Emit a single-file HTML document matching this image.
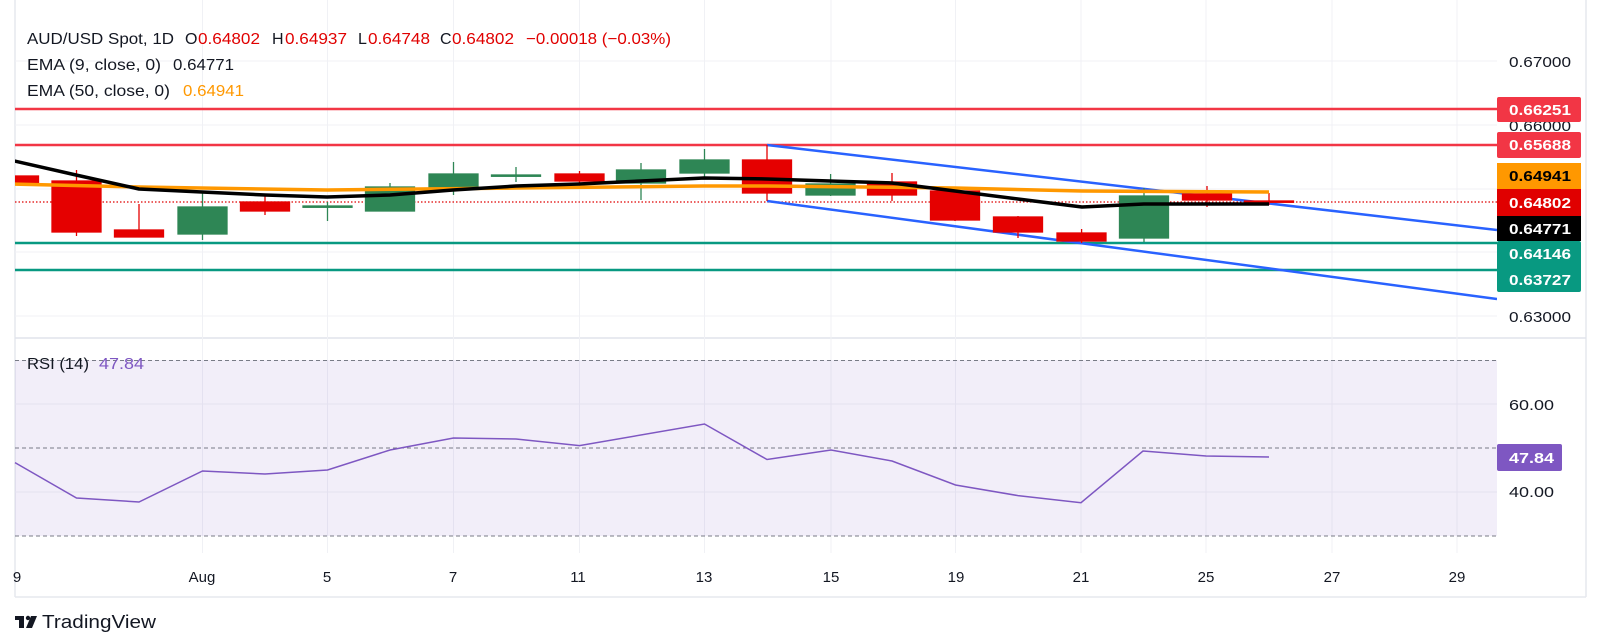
<!DOCTYPE html>
<html><head><meta charset="utf-8"><style>
html,body{margin:0;padding:0;background:#fff;}
svg{display:block;font-family:"Liberation Sans",sans-serif;}
</style></head><body>
<svg width="1602" height="644" viewBox="0 0 1602 644" xmlns="http://www.w3.org/2000/svg">
<defs><clipPath id="c"><rect x="15" y="0" width="1482" height="338"/></clipPath></defs>
<rect width="1602" height="644" fill="#fff"/>
<line x1="15" y1="0" x2="15" y2="597" stroke="#e6e8ee" stroke-width="1.5"/>
<line x1="1586" y1="0" x2="1586" y2="597" stroke="#e6e8ee" stroke-width="1.5"/>
<line x1="15" y1="597" x2="1586" y2="597" stroke="#e6e8ee" stroke-width="1.5"/>
<line x1="15" y1="338" x2="1586" y2="338" stroke="#e0e3eb" stroke-width="1.5"/>
<g stroke="#f0f1f5" stroke-width="1">
<line x1="15" y1="61" x2="1497" y2="61"/><line x1="15" y1="125" x2="1497" y2="125"/>
<line x1="15" y1="189" x2="1497" y2="189"/><line x1="15" y1="252" x2="1497" y2="252"/>
<line x1="15" y1="316" x2="1497" y2="316"/>
<line x1="15" y1="404" x2="1497" y2="404"/><line x1="15" y1="492" x2="1497" y2="492"/>
<line x1="202.5" y1="0" x2="202.5" y2="553"/><line x1="327.5" y1="0" x2="327.5" y2="553"/>
<line x1="453.5" y1="0" x2="453.5" y2="553"/><line x1="579.5" y1="0" x2="579.5" y2="553"/>
<line x1="704.5" y1="0" x2="704.5" y2="553"/><line x1="831" y1="0" x2="831" y2="553"/>
<line x1="955.5" y1="0" x2="955.5" y2="553"/><line x1="1081" y1="0" x2="1081" y2="553"/>
<line x1="1206" y1="0" x2="1206" y2="553"/><line x1="1332" y1="0" x2="1332" y2="553"/>
<line x1="1457" y1="0" x2="1457" y2="553"/>
</g>
<g clip-path="url(#c)">
<line x1="15" y1="109" x2="1497" y2="109" stroke="#f23645" stroke-width="2.5"/>
<line x1="15" y1="145" x2="1497" y2="145" stroke="#f23645" stroke-width="2.5"/>
<line x1="15" y1="243" x2="1497" y2="243" stroke="#089981" stroke-width="2.5"/>
<line x1="15" y1="270" x2="1497" y2="270" stroke="#089981" stroke-width="2.5"/>
<line x1="15" y1="202" x2="1497" y2="202" stroke="#e00000" stroke-width="1.2" stroke-dasharray="1.5 2"/>
<line x1="767" y1="145" x2="1497" y2="230" stroke="#2962ff" stroke-width="2.5"/>
<line x1="767" y1="201" x2="1497" y2="299" stroke="#2962ff" stroke-width="2.5"/>
<g stroke-width="1.3">
<g fill="#e50000" stroke="#e50000">
<rect x="-10.5" y="176" width="49" height="7"/>
<line x1="76.5" y1="170" x2="76.5" y2="236"/><rect x="52" y="181" width="49" height="51"/>
<line x1="139" y1="204" x2="139" y2="237"/><rect x="114.5" y="230" width="49" height="7"/>
<line x1="265" y1="195" x2="265" y2="215"/><rect x="240.5" y="202" width="49" height="9"/>
<line x1="579.5" y1="171" x2="579.5" y2="188"/><rect x="555" y="174" width="49" height="7"/>
<line x1="767" y1="145" x2="767" y2="201"/><rect x="742.5" y="160" width="49" height="33"/>
<line x1="892" y1="173" x2="892" y2="201"/><rect x="867.5" y="182" width="49" height="13"/>
<line x1="955" y1="190" x2="955" y2="221"/><rect x="930.5" y="191" width="49" height="29"/>
<line x1="1018" y1="216" x2="1018" y2="238"/><rect x="993.5" y="217" width="49" height="15"/>
<line x1="1081.6" y1="229" x2="1081.6" y2="243"/><rect x="1057" y="233" width="49" height="8"/>
<line x1="1207" y1="186" x2="1207" y2="207"/><rect x="1182.5" y="194" width="49" height="6"/>
<line x1="1269" y1="193" x2="1269" y2="205"/><rect x="1244.5" y="201" width="49" height="1.3"/>
</g>
<g fill="#2e8655" stroke="#2e8655">
<line x1="202.5" y1="193" x2="202.5" y2="240"/><rect x="178" y="207" width="49" height="27"/>
<line x1="327.5" y1="202" x2="327.5" y2="221"/><rect x="303" y="206" width="49" height="1.3"/>
<line x1="390" y1="183" x2="390" y2="211"/><rect x="365.5" y="187" width="49" height="24"/>
<line x1="453.5" y1="162" x2="453.5" y2="195"/><rect x="429" y="174" width="49" height="13"/>
<line x1="516" y1="167" x2="516" y2="182"/><rect x="491.5" y="175" width="49" height="1.3"/>
<line x1="641" y1="163" x2="641" y2="200"/><rect x="616.5" y="170" width="49" height="13"/>
<line x1="704.5" y1="149" x2="704.5" y2="178"/><rect x="680" y="160" width="49" height="13"/>
<line x1="830.6" y1="174" x2="830.6" y2="196"/><rect x="806" y="184" width="49" height="11"/>
<line x1="1144" y1="188" x2="1144" y2="242"/><rect x="1119.5" y="196" width="49" height="42"/>
</g>
</g>
<polyline fill="none" stroke="#ff9800" stroke-width="3.5" stroke-linejoin="round" points="10,184 139,187 327,190 516,188 704,186 767,186 955,188 1082,191 1269,192"/>
<polyline fill="none" stroke="#000" stroke-width="3.5" stroke-linejoin="round" points="10,160 76,175 139,189 202,192 265,195 327,197 390,195 453,190 516,186 579,184 641,181 704,178 767,179 830,181 892,183 955,191 1018,199 1082,207 1144,204 1207,204 1269,204"/>
</g>
<!-- header -->
<g font-size="16" fill="#131722">
<text x="27" y="44" textLength="147" lengthAdjust="spacingAndGlyphs">AUD/USD Spot, 1D</text>
<text x="185" y="44">O</text><text x="198" y="44" fill="#e00000" textLength="62" lengthAdjust="spacingAndGlyphs">0.64802</text>
<text x="272" y="44">H</text><text x="285" y="44" fill="#e00000" textLength="62" lengthAdjust="spacingAndGlyphs">0.64937</text>
<text x="358" y="44">L</text><text x="368" y="44" fill="#e00000" textLength="62" lengthAdjust="spacingAndGlyphs">0.64748</text>
<text x="440" y="44">C</text><text x="452" y="44" fill="#e00000" textLength="62" lengthAdjust="spacingAndGlyphs">0.64802</text>
<text x="526" y="44" fill="#e00000" textLength="145" lengthAdjust="spacingAndGlyphs">−0.00018 (−0.03%)</text>
<text x="27" y="70" textLength="134" lengthAdjust="spacingAndGlyphs">EMA (9, close, 0)</text>
<text x="173" y="70" textLength="61" lengthAdjust="spacingAndGlyphs">0.64771</text>
<text x="27" y="96" textLength="143" lengthAdjust="spacingAndGlyphs">EMA (50, close, 0)</text>
<text x="183" y="96" fill="#ff9800" textLength="61" lengthAdjust="spacingAndGlyphs">0.64941</text>
</g>
<g font-size="15" fill="#131722">
<text x="1509" y="67" textLength="62" lengthAdjust="spacingAndGlyphs">0.67000</text>
<text x="1509" y="131" textLength="62" lengthAdjust="spacingAndGlyphs">0.66000</text>
<text x="1509" y="322" textLength="62" lengthAdjust="spacingAndGlyphs">0.63000</text>
</g>
<g font-size="15" font-weight="bold">
<rect x="1497" y="97" width="84" height="25" rx="2" fill="#f23645"/><text x="1509" y="115" fill="#fff" textLength="62" lengthAdjust="spacingAndGlyphs">0.66251</text>
<rect x="1497" y="132" width="84" height="26" rx="2" fill="#f23645"/><text x="1509" y="150" fill="#fff" textLength="62" lengthAdjust="spacingAndGlyphs">0.65688</text>
<rect x="1497" y="163" width="84" height="26" fill="#ff9800"/><text x="1509" y="181" fill="#000" textLength="62" lengthAdjust="spacingAndGlyphs">0.64941</text>
<rect x="1497" y="189" width="84" height="27" fill="#e00000"/><text x="1509" y="208" fill="#fff" textLength="62" lengthAdjust="spacingAndGlyphs">0.64802</text>
<rect x="1497" y="216" width="84" height="25" fill="#000"/><text x="1509" y="234" fill="#fff" textLength="62" lengthAdjust="spacingAndGlyphs">0.64771</text>
<rect x="1497" y="241" width="84" height="51" rx="2" fill="#089981"/><text x="1509" y="259" fill="#fff" textLength="62" lengthAdjust="spacingAndGlyphs">0.64146</text><text x="1509" y="285" fill="#fff" textLength="62" lengthAdjust="spacingAndGlyphs">0.63727</text>
</g>
<rect x="15" y="360" width="1482" height="176" fill="#7e57c2" fill-opacity="0.1"/>
<g stroke="#787b86" stroke-width="1" stroke-dasharray="4 3">
<line x1="15" y1="360.5" x2="1497" y2="360.5"/><line x1="15" y1="448" x2="1497" y2="448"/><line x1="15" y1="536" x2="1497" y2="536"/>
</g>
<polyline fill="none" stroke="#7e57c2" stroke-width="1.5" points="15,462.6 76.5,498 139,502 202.5,471 265,474 327.5,470 390,450 453.5,438 516,439 579.5,445.6 704.5,424 767,459.5 831,450 892,461 955.5,485 1018,495.6 1081,502.7 1143,451 1206,456 1269,457"/>
<text x="27" y="369" font-size="16" fill="#131722" textLength="62" lengthAdjust="spacingAndGlyphs">RSI (14)</text>
<text x="99" y="369" font-size="16" fill="#7e57c2" textLength="45" lengthAdjust="spacingAndGlyphs">47.84</text>
<g font-size="15" fill="#131722"><text x="1509" y="410" textLength="45" lengthAdjust="spacingAndGlyphs">60.00</text><text x="1509" y="497" textLength="45" lengthAdjust="spacingAndGlyphs">40.00</text></g>
<rect x="1497" y="444" width="65" height="27" rx="2" fill="#7e57c2"/>
<text x="1509" y="463" font-size="15" font-weight="bold" fill="#fff" textLength="45" lengthAdjust="spacingAndGlyphs">47.84</text>
<g font-size="15" fill="#131722" text-anchor="middle">
<text x="17" y="582">9</text><text x="202" y="582">Aug</text><text x="327" y="582">5</text>
<text x="453" y="582">7</text><text x="578" y="582">11</text><text x="704" y="582">13</text>
<text x="831" y="582">15</text><text x="956" y="582">19</text><text x="1081" y="582">21</text>
<text x="1206" y="582">25</text><text x="1332" y="582">27</text><text x="1457" y="582">29</text>
</g>
<g fill="#131722">
<rect x="15" y="616" width="9" height="4"/><rect x="19" y="616" width="5" height="12"/>
<circle cx="28" cy="618" r="2.2"/><polygon points="31,616 37,616 32,628 26,628"/>
<text x="42" y="628" font-size="18" textLength="114" lengthAdjust="spacingAndGlyphs">TradingView</text>
</g>
</svg>
</body></html>
